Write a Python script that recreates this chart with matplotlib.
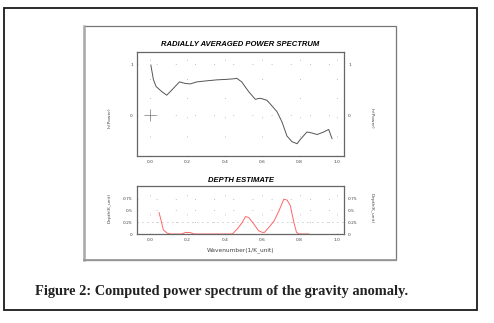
import matplotlib
matplotlib.use('Agg')
import matplotlib.pyplot as plt
from matplotlib.patches import Rectangle

# radially averaged power spectrum
k_pow = [0.004, 0.018, 0.032, 0.0625, 0.089, 0.116, 0.157, 0.1875, 0.214, 0.25,
         0.30, 0.357, 0.41, 0.446, 0.464, 0.49, 0.527, 0.5625, 0.589, 0.625,
         0.652, 0.679, 0.705, 0.732, 0.759, 0.786, 0.80, 0.839, 0.866, 0.893,
         0.929, 0.955, 0.973]
ln_pow = [0.98, 0.69, 0.56, 0.46, 0.39, 0.49, 0.65, 0.62, 0.61, 0.65,
          0.67, 0.69, 0.70, 0.71, 0.72, 0.65, 0.46, 0.31, 0.33, 0.29,
          0.18, 0.065, -0.13, -0.41, -0.52, -0.56, -0.49, -0.33, -0.35, -0.38,
          -0.33, -0.28, -0.46]

# depth estimate
k_dep = [0.048, 0.057, 0.071, 0.093, 0.11, 0.17, 0.19, 0.217, 0.235, 0.44,
         0.466, 0.493, 0.51, 0.528, 0.555, 0.58, 0.60, 0.612, 0.635, 0.662,
         0.689, 0.715, 0.733, 0.75, 0.769, 0.783, 0.795, 0.849]
depth = [0.455, 0.315, 0.084, 0.014, 0.0, 0.0, 0.035, 0.028, 0.0, 0.0,
         0.105, 0.245, 0.37, 0.35, 0.21, 0.07, 0.035, 0.035, 0.14, 0.27,
         0.49, 0.74, 0.72, 0.60, 0.245, 0.035, 0.0, 0.0]

xticks = [0.0, 0.2, 0.4, 0.6, 0.8, 1.0]
xticklabels = ['0.0', '0.2', '0.4', '0.6', '0.8', '1.0']
dep_ticks = [0, 0.25, 0.5, 0.75]
dep_labels = ['0', '0.25', '0.5', '0.75']

W, H = 494, 323
fig = plt.figure(figsize=(W / 100, H / 100), dpi=100)

def fx(px):
    return px / W

def fy(py):
    return 1 - py / H

# outer black frame
fig.patches.append(Rectangle((fx(3.5), fy(310)), fx(473.5), 302 / H, transform=fig.transFigure,
                             fill=False, edgecolor='#1a1a1a', lw=1.3))
# gray panel
fig.patches.append(Rectangle((fx(84), fy(260)), fx(312), 234 / H, transform=fig.transFigure,
                             fill=False, edgecolor='#777777', lw=0.9))
fig.add_artist(plt.Line2D([fx(84), fx(84)], [fy(26), fy(260)], transform=fig.transFigure,
                          color='#aaaaaa', lw=1.8))
fig.add_artist(plt.Line2D([fx(84), fx(396)], [fy(260), fy(260)], transform=fig.transFigure,
                          color='#999999', lw=1.3))

tick_fs = 3.2
title_font = dict(family='Liberation Sans', fontsize=5.5, fontweight='bold', style='italic')

def style_axes(ax):
    for s in ax.spines.values():
        s.set_color('#666666')
        s.set_linewidth(0.9)
    ax.tick_params(length=0, labelsize=tick_fs, labelcolor='#444444', pad=3,
                   labelright=True)
    ax.set_xticks(xticks)
    ax.set_xticklabels(xticklabels)
    ax.set_xlim(-0.07, 1.037)

# top panel
ax1 = fig.add_axes([fx(137), fy(156), fx(207), 104 / H])
style_axes(ax1)
ax1.set_ylim(-0.80, 1.235)
ax1.set_yticks([0, 1])
ax1.set_yticklabels(['0', '1'])
ax1.grid(True, color='#aaaaaa', lw=0.6, linestyle=(0, (1, 22)))
ax1.plot(k_pow, ln_pow, color='#555555', lw=0.7)
ax1.plot([0], [0], marker='+', ms=9, mew=0.5, color='#777777')
ax1.set_title('RADIALLY AVERAGED POWER SPECTRUM', pad=4, **title_font)
fig.text(fx(110), fy(118), 'ln(Power)', rotation=90, fontsize=3.2, color='#444444',
         ha='center', va='center')
fig.text(fx(372), fy(118), 'ln(Power)', rotation=270, fontsize=3.2, color='#444444',
         ha='center', va='center')

# bottom panel
ax2 = fig.add_axes([fx(137), fy(234), fx(207), 48 / H])
style_axes(ax2)
ax2.set_ylim(0, 1.02)
ax2.set_yticks(dep_ticks)
ax2.set_yticklabels(dep_labels)
ax2.grid(True, color='#aaaaaa', lw=0.6, linestyle=(0, (1, 22)))
ax2.axhline(0.25, color='#999999', lw=0.6, linestyle=(0, (1, 5)))
ax2.plot(k_dep, depth, color='#ff6666', lw=0.7)
ax2.set_title('DEPTH ESTIMATE', pad=3, **title_font)
ax2.set_xlabel('Wavenumber(1/K_unit)', fontsize=4.2, color='#444444', labelpad=4)
fig.text(fx(110), fy(208), 'Depth(K_unit)', rotation=90, fontsize=3.2, color='#444444',
         ha='center', va='center')
fig.text(fx(372), fy(208), 'Depth(K_unit)', rotation=270, fontsize=3.2, color='#444444',
         ha='center', va='center')

# caption
fig.text(fx(35), fy(292), 'Figure 2: Computed power spectrum of the gravity anomaly.',
         family='Liberation Serif', fontweight='bold', fontsize=10.4, color='#222222',
         ha='left', va='center')

fig.savefig('out.png', dpi=100)
